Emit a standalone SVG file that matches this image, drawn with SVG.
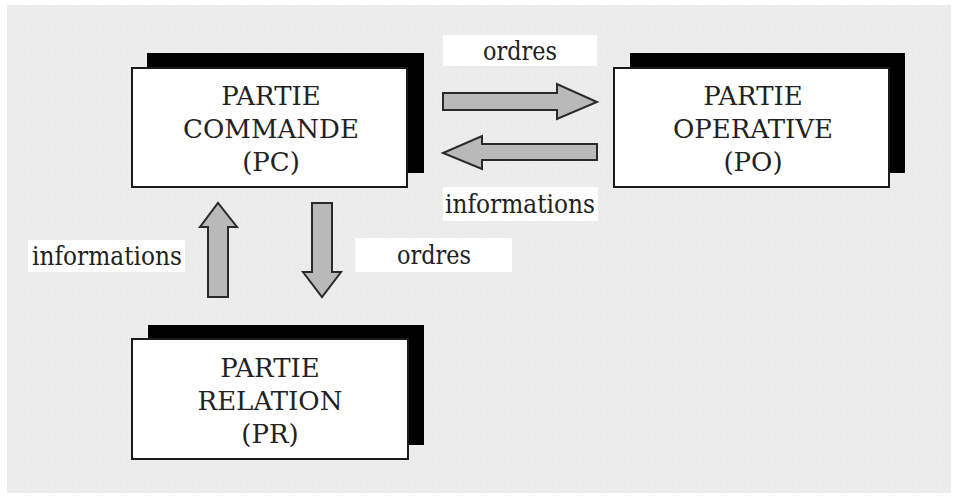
<svg xmlns="http://www.w3.org/2000/svg" width="955" height="496" viewBox="0 0 955 496">
<defs>
<pattern id="dots" width="6" height="6" patternUnits="userSpaceOnUse">
<rect width="6" height="6" fill="#ececec"/>
<rect width="1" height="1" fill="#e2e2e2"/>
</pattern>
</defs>
<style>
.shadow{fill:#000}
.box{fill:#fff;stroke:#1a1a1a;stroke-width:2}
.t{font-family:'DejaVu Serif',serif;font-size:26px;fill:#222;text-anchor:middle}
.lbl{fill:#fff}
.arr{fill:#b9b9b9;stroke:#2a2a2a;stroke-width:2;stroke-linejoin:miter}
</style>
<rect x="0" y="0" width="955" height="496" fill="#fff"/>
<rect x="7" y="5" width="944" height="488" fill="url(#dots)"/>

<g id="PC">
<rect class="shadow" x="147" y="53" width="277" height="120"/>
<rect class="box" x="132" y="68" width="275" height="119"/>
<text class="t" x="271" y="105">PARTIE</text>
<text class="t" x="271" y="138">COMMANDE</text>
<text class="t" x="271" y="171">(PC)</text>
</g>

<g id="PO">
<rect class="shadow" x="630" y="53" width="275" height="120"/>
<rect class="box" x="614" y="68" width="275" height="119"/>
<text class="t" x="753" y="105">PARTIE</text>
<text class="t" x="753" y="138">OPERATIVE</text>
<text class="t" x="753" y="171">(PO)</text>
</g>

<g id="PR">
<rect class="shadow" x="148" y="325" width="276" height="120"/>
<rect class="box" x="132" y="339" width="276" height="120"/>
<text class="t" x="270" y="377">PARTIE</text>
<text class="t" x="270" y="410">RELATION</text>
<text class="t" x="270" y="443">(PR)</text>
</g>

<g id="connectors">
<polygon class="arr" points="443,93 557,93 557,84 597,102 557,119 557,110 443,110"/>
<polygon class="arr" points="597,144 482,144 482,136 443,153 482,169 482,160 597,160"/>
<polygon class="arr" points="208,297 208,227 200,227 218,203 237,227 228,227 228,297"/>
<polygon class="arr" points="312,203 332,203 332,272 341,272 322,297 303,272 312,272"/>
</g>

<g id="labels">
<rect class="lbl" x="443" y="35" width="154" height="31"/>
<text class="t" x="520" y="60" textLength="74" lengthAdjust="spacingAndGlyphs">ordres</text>
<rect class="lbl" x="443" y="187" width="155" height="34"/>
<text class="t" x="520" y="213" textLength="150" lengthAdjust="spacingAndGlyphs">informations</text>
<rect class="lbl" x="28" y="240" width="157" height="32"/>
<text class="t" x="107" y="265" textLength="150" lengthAdjust="spacingAndGlyphs">informations</text>
<rect class="lbl" x="355" y="238" width="157" height="34"/>
<text class="t" x="434" y="264" textLength="74" lengthAdjust="spacingAndGlyphs">ordres</text>
</g>
</svg>
